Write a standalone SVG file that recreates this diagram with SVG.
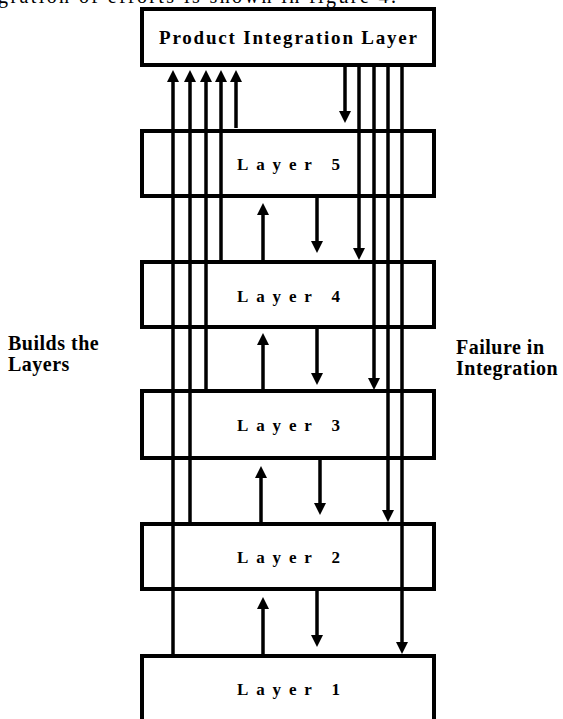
<svg xmlns="http://www.w3.org/2000/svg" width="563" height="719" viewBox="0 0 563 719">
<style>
.box{fill:#fff;stroke:#000;stroke-width:4}
.ln{fill:none;stroke:#000;stroke-width:3.5}
.t{font-family:"Liberation Serif","Times New Roman",serif;font-weight:bold;fill:#000}
.lbl{font-family:"Liberation Serif","Times New Roman",serif;font-weight:bold;font-size:20px;letter-spacing:0.5px;fill:#000}
</style>
<defs>
<marker id="ah" markerUnits="userSpaceOnUse" markerWidth="12" markerHeight="12" refX="6" refY="6" orient="auto">
<path d="M0,0 L12,6 L0,12 z" fill="#000"/>
</marker>
</defs>
<rect width="563" height="719" fill="#fff"/>
<text x="-2" y="3" font-family="Liberation Serif, serif" font-size="20" textLength="398" lengthAdjust="spacing">gration of efforts is shown in figure 4.</text>

<g id="top"><rect class="box" x="142" y="9" width="292" height="56"/>
<text class="t" x="159" y="44" font-size="19" textLength="258" lengthAdjust="spacing">Product Integration Layer</text></g>
<g id="layer5"><rect class="box" x="142" y="131" width="292" height="65"/>
<text class="t" x="237" y="170" font-size="17" textLength="103" lengthAdjust="spacing">Layer 5</text></g>
<g id="layer4"><rect class="box" x="142" y="262" width="292" height="65"/>
<text class="t" x="237" y="302" font-size="17" textLength="103" lengthAdjust="spacing">Layer 4</text></g>
<g id="layer3"><rect class="box" x="142" y="391" width="292" height="67"/>
<text class="t" x="237" y="431" font-size="17" textLength="103" lengthAdjust="spacing">Layer 3</text></g>
<g id="layer2"><rect class="box" x="142" y="524" width="292" height="65"/>
<text class="t" x="237" y="563" font-size="17" textLength="103" lengthAdjust="spacing">Layer 2</text></g>
<g id="layer1"><rect class="box" x="142" y="656" width="292" height="90"/>
<text class="t" x="237" y="695" font-size="17" textLength="103" lengthAdjust="spacing">Layer 1</text></g>

<g id="connectors" class="ln">
<line x1="173" y1="656" x2="173" y2="76" marker-end="url(#ah)"/>
<line x1="190" y1="524" x2="190" y2="76" marker-end="url(#ah)"/>
<line x1="206" y1="391" x2="206" y2="76" marker-end="url(#ah)"/>
<line x1="221" y1="262" x2="221" y2="76" marker-end="url(#ah)"/>
<line x1="236" y1="128" x2="236" y2="76" marker-end="url(#ah)"/>
<line x1="345" y1="65" x2="345" y2="117" marker-end="url(#ah)"/>
<line x1="359" y1="65" x2="359" y2="254" marker-end="url(#ah)"/>
<line x1="374" y1="65" x2="374" y2="384" marker-end="url(#ah)"/>
<line x1="388" y1="65" x2="388" y2="516" marker-end="url(#ah)"/>
<line x1="402" y1="65" x2="402" y2="648" marker-end="url(#ah)"/>
<line x1="263" y1="262" x2="263" y2="209" marker-end="url(#ah)"/>
<line x1="317" y1="196" x2="317" y2="247" marker-end="url(#ah)"/>
<line x1="263" y1="391" x2="263" y2="339" marker-end="url(#ah)"/>
<line x1="317" y1="327" x2="317" y2="379" marker-end="url(#ah)"/>
<line x1="261" y1="524" x2="261" y2="472" marker-end="url(#ah)"/>
<line x1="320" y1="458" x2="320" y2="509" marker-end="url(#ah)"/>
<line x1="263" y1="656" x2="263" y2="603" marker-end="url(#ah)"/>
<line x1="317" y1="589" x2="317" y2="641" marker-end="url(#ah)"/>
</g>

<g id="label-builds"><text class="lbl" x="8" y="350">Builds the</text><text class="lbl" x="8" y="371">Layers</text></g>
<g id="label-failure"><text class="lbl" x="456" y="354">Failure in</text><text class="lbl" x="456" y="375">Integration</text></g>
</svg>
